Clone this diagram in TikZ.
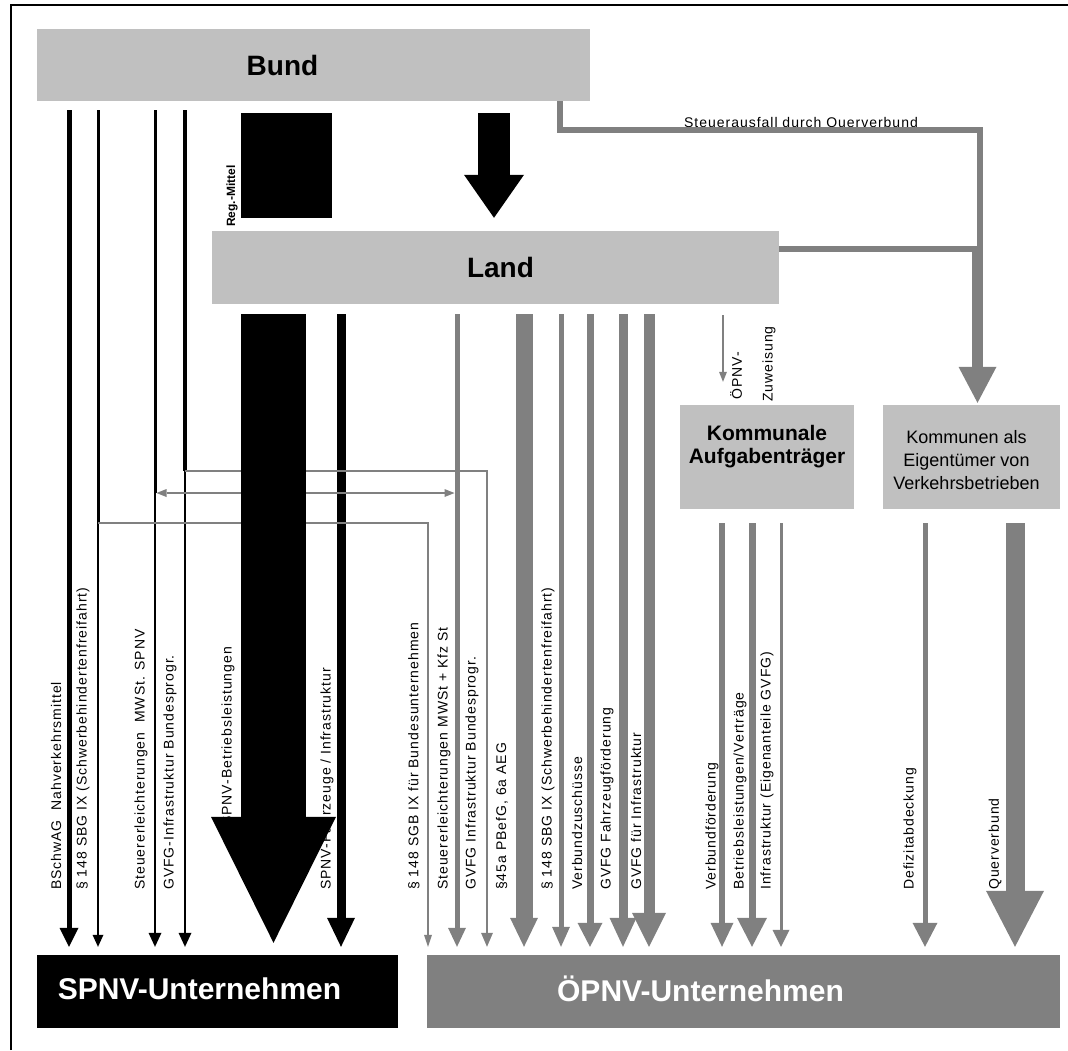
\documentclass[tikz,border=0pt]{standalone}
\usepackage{fontspec}
\setmainfont{Liberation Sans}
\newfontfamily\lblfont[LetterSpace=7]{Liberation Sans}
\usetikzlibrary{arrows.meta}
\definecolor{boxgray}{HTML}{C0C0C0}
\definecolor{flowgray}{HTML}{808080}
\tikzset{
  box/.style={fill=boxgray,inner sep=0pt},
  big/.style={font=\fontsize{28}{30}\selectfont\bfseries},
  firm/.style={text=white,font=\fontsize{30}{32}\selectfont\bfseries},
  lbl/.style={rotate=90,anchor=west,inner sep=0pt,font=\fontsize{14}{16}\lblfont},
  fl/.style n args={3}{line width=#1pt,-{Triangle[width=#2pt,length=#3pt,line width=0pt]}},
  dbl/.style={flowgray,line width=1.5pt,{Triangle[width=8pt,length=10pt,line width=0pt]}-{Triangle[width=8pt,length=10pt,line width=0pt]}}
}
\begin{document}
\begin{tikzpicture}[x=1pt,y=-1pt]
  \useasboundingbox (0,0) rectangle (1068,1050);
  \draw[line width=1.2pt] (11,1050) -- (11,5) -- (1068,5);

  % boxes
  \node[box,minimum width=553pt,minimum height=72pt,label={[big,xshift=-31pt]center:Bund}] (bund) at (313.5,65) {};
  \node[box,minimum width=567pt,minimum height=73pt,label={[big,xshift=5pt]center:Land}] (land) at (495.5,267.5) {};
  \node[box,minimum width=174pt,minimum height=104pt,label={[font=\fontsize{21}{23}\selectfont\bfseries,align=center,yshift=10pt]center:{Kommunale\\Aufgabenträger}}] (komm) at (767,457) {};
  \node[box,minimum width=177pt,minimum height=104pt,label={[font=\fontsize{18}{23}\selectfont,align=center,xshift=-5pt,yshift=-3pt]center:{Kommunen als\\Eigentümer von\\Verkehrsbetrieben}}] (eig) at (971.5,457) {};
  \node[fill=black,inner sep=0pt,minimum width=361pt,minimum height=73pt,label={[firm,xshift=-18pt,yshift=3pt]center:SPNV-Unternehmen}] (spnv) at (217.5,991.5) {};
  \node[fill=flowgray,inner sep=0pt,minimum width=633pt,minimum height=73pt,label={[firm,xshift=-43pt,yshift=3pt]center:ÖPNV-Unternehmen}] (oepnv) at (743.5,991.5) {};
  \node[fill=black,inner sep=0pt,minimum width=91pt,minimum height=105pt] (reg) at (286.5,165.5) {};
  \node[lbl,font=\fontsize{12}{14}\selectfont\bfseries] (regtxt) at (232,227) {Reg.-Mittel};

  % labels
  \foreach \x/\t in {56/{BSchwAG~ Nahverkehrsmittel},83/{§ 148 SBG IX (Schwerbehindertenfreifahrt)},
      141/{Steuererleichterungen~ MWSt. SPNV},170/{GVFG-Infrastruktur Bundesprogr.},
      327/{SPNV-Fahrzeuge / Infrastruktur},414/{§ 148 SGB IX für Bundesunternehmen},
      444/{Steuererleichterungen MWSt + Kfz St},472/{GVFG Infrastruktur Bundesprogr.},
      502/{§45a PBefG, 6a AEG},548/{§ 148 SBG IX (Schwerbehindertenfreifahrt)},
      577/{Verbundzuschüsse},607/{GVFG Fahrzeugförderung},636/{GVFG für Infrastruktur},
      712/{Verbundförderung},740/{Betriebsleistungen/Verträge},767/{Infrastruktur (Eigenanteile GVFG)},
      910/{Defizitabdeckung},995/{Querverbund}}
    \node[lbl] (l\x) at (\x,890) {\t};
  \node[lbl] (lbetr) at (228,826) {SPNV-Betriebsleistungen};
  \node[lbl] (zuw1) at (736,400) {ÖPNV-};
  \node[lbl] (zuw2) at (769,402) {Zuweisung};
  \node[font=\fontsize{14}{16}\lblfont,anchor=base,inner sep=0pt] (stx) at (801,127) {Steuerausfall durch Querverbund};

  % Bund -> Land, Querverbund
  \draw[fl={32}{60}{43},shorten <=12pt,shorten >=13pt] (494,0 |- bund.south) -- (494,0 |- land.north);
  \coordinate (q) at (980,249);
  \draw[flowgray,line width=6pt] (559.5,0 |- bund.south) |- (980,130) -- (q);
  \draw[flowgray,line width=6pt] (land.east |- q) -- (q);
  \draw[flowgray,fl={11}{38}{36},shorten >=2pt] (977.5,246) -- (977.5,0 |- eig.north);
  \draw[flowgray,fl={1.5}{8}{10},shorten <=11pt,shorten >=23pt] (723,0 |- land.south) -- (723,0 |- komm.north);

  % Bund -> SPNV
  \coordinate (s98) at (98,523);
  \coordinate (s155) at (155,493);
  \coordinate (s185) at (185,471);
  \draw[fl={5}{19}{19},shorten <=9pt,shorten >=8pt] (69,0 |- bund.south) -- (69,0 |- spnv.north);
  \draw[line width=3pt,shorten <=9pt] (98,0 |- bund.south) -- (s98);
  \draw[line width=3pt,shorten <=9pt] (155,0 |- bund.south) -- (s155);
  \draw[line width=4pt,shorten <=9pt] (185,0 |- bund.south) -- (s185);
  \foreach \p/\hw/\hl in {s98/11/12,s155/13/14,s185/13/14}
    \draw[fl={1.5}{\hw}{\hl},shorten >=8pt] (\p) -- (\p |- spnv.north);
  \draw[fl={9}{28}{29},shorten <=10pt,shorten >=8pt] (341,0 |- land.south) -- (341,0 |- spnv.north);

  % split to OEPNV
  \draw[flowgray,fl={1.5}{8}{12},shorten >=8pt] (s98) -| (428,0 |- oepnv.north);
  \draw[flowgray,fl={1.5}{12}{14},shorten >=8pt] (s185) -| (487,0 |- oepnv.north);
  \draw[dbl,shorten <=1.5pt,shorten >=2.5pt] (s155) -- (457,493);

  % Land -> OEPNV
  \foreach \x/\w/\hw/\hl in {457/5/18/19,524/17/28/29,561/5/18/20,590/7/25/24,623/9/27/29,649/11/34/34}
    \draw[flowgray,fl={\w}{\hw}{\hl},shorten <=10pt,shorten >=8pt] (\x,0 |- land.south) -- (\x,0 |- oepnv.north);
  % Kommunen -> OEPNV
  \foreach \x/\w/\hw/\hl in {722/6/23/24,752/7/30/29,781/3/17/17}
    \draw[flowgray,fl={\w}{\hw}{\hl},shorten <=14pt,shorten >=8pt] (\x,0 |- komm.south) -- (\x,0 |- oepnv.north);
  \foreach \x/\w/\hw/\hl in {925/5/25/24,1015/19/58/56}
    \draw[flowgray,fl={\w}{\hw}{\hl},shorten <=14pt,shorten >=8pt] (\x,0 |- eig.south) -- (\x,0 |- oepnv.north);

  % SPNV-Betriebsleistungen
  \draw[fl={65}{125}{126},shorten <=10pt,shorten >=12pt] (273.5,0 |- land.south) -- (273.5,0 |- spnv.north);
\end{tikzpicture}
\end{document}
